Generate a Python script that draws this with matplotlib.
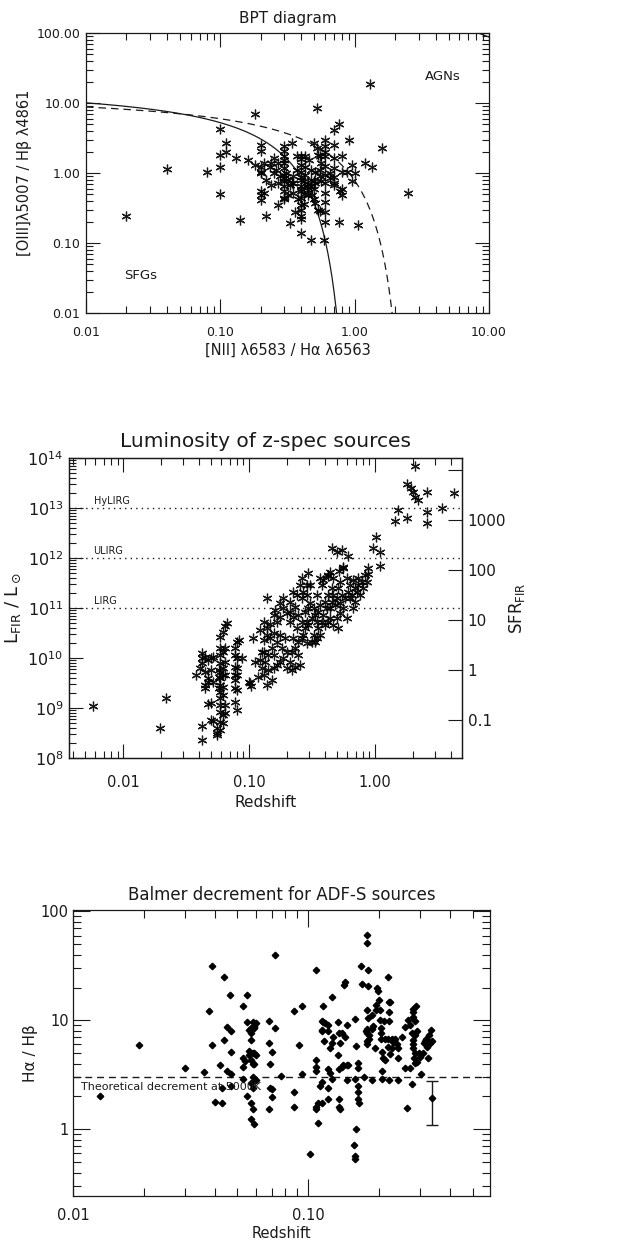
import numpy as np
import matplotlib
matplotlib.use('Agg')
import matplotlib.pyplot as plt
from matplotlib.ticker import LogLocator, FixedLocator, FuncFormatter, NullFormatter, NullLocator

plt.rcParams['font.family'] = ['DejaVu Sans']
plt.rcParams['mathtext.fontset'] = 'dejavusans'

# ---------------- Panel 1 data: BPT diagram ----------------
bpt_nii = [
    0.020, 0.040, 0.080, 0.10, 0.10, 0.10, 0.10, 0.11, 0.11, 0.13,
    0.14, 0.16, 0.18, 0.18, 0.22, 0.27, 0.33, 0.34, 0.52, 1.30,
    0.76, 0.70, 0.90, 1.60, 2.50, 1.06, 0.77, 0.60, 0.47, 0.59,
    0.40, 1.35, 1.20, 1.00, 0.95, 0.95, 0.88, 0.80, 0.80, 0.80,
    0.80, 0.78, 0.70, 0.70, 0.70, 0.70, 0.70, 0.70, 0.60, 0.60,
    0.60, 0.60, 0.60, 0.60, 0.60, 0.60, 0.56, 0.55, 0.52, 0.50,
    0.55, 0.56, 0.55, 0.51, 0.50, 0.47, 0.48, 0.50, 0.44, 0.42,
    0.40, 0.40, 0.40, 0.40, 0.40, 0.40, 0.40, 0.40, 0.40, 0.40,
    0.40, 0.40, 0.38, 0.35, 0.35, 0.33, 0.36, 0.30, 0.30, 0.30,
    0.30, 0.30, 0.30, 0.30, 0.30, 0.30, 0.30, 0.30, 0.30, 0.27,
    0.27, 0.26, 0.25, 0.25, 0.24, 0.235, 0.22, 0.21, 0.20, 0.20,
    0.20, 0.20, 0.20, 0.20, 0.20, 0.20, 0.21, 0.31, 0.32, 0.32,
    0.34, 0.43, 0.43, 0.47, 0.47, 0.46, 0.43, 0.37, 0.37, 0.51,
    0.51, 0.53, 0.53, 0.40, 0.40, 0.45, 0.45, 0.42, 0.50, 0.55,
    0.60, 0.65, 0.65, 0.45, 0.35, 0.28, 0.30, 0.24, 0.60, 0.42,
]
bpt_oiii = [
    0.24, 1.13, 1.03, 4.3, 1.8, 1.2, 0.50, 2.7, 2.0, 1.65,
    0.21, 1.55, 7.0, 1.3, 0.24, 0.35, 0.19, 2.7, 8.5, 18.5,
    5.0, 4.1, 3.0, 2.3, 0.52, 0.18, 0.20, 0.20, 0.11, 0.11,
    0.14, 1.2, 1.4, 1.0, 0.78, 1.3, 1.05, 1.75, 1.05, 0.60,
    0.49, 0.55, 2.5, 1.65, 1.18, 0.89, 0.72, 0.68, 3.0, 2.4,
    2.0, 1.73, 1.25, 0.51, 0.39, 0.72, 1.40, 1.75, 2.27, 2.65,
    1.1, 0.76, 0.29, 0.37, 0.76, 0.80, 0.49, 0.42, 0.65, 0.76,
    1.73, 1.6, 1.3, 1.05, 0.89, 0.65, 0.55, 0.44, 0.35, 0.30,
    0.245, 0.22, 0.42, 0.52, 0.73, 0.68, 0.28, 2.4, 2.05, 1.75,
    1.55, 1.40, 1.19, 0.95, 0.76, 0.65, 0.55, 0.44, 0.42, 1.40,
    0.72, 1.1, 1.0, 1.65, 0.68, 1.2, 0.80, 1.40, 1.05, 2.5,
    2.04, 1.23, 1.0, 0.55, 0.49, 0.41, 0.52, 1.0, 0.80, 0.49,
    0.73, 1.2, 0.95, 1.1, 0.65, 1.55, 1.75, 1.75, 1.1, 0.72,
    1.05, 1.8, 0.30, 0.80, 0.60, 0.58, 0.48, 0.50, 0.60, 0.90,
    0.95, 0.85, 1.0, 0.70, 0.90, 0.90, 0.85, 1.4, 0.28, 0.36,
]
bpt_xticks = [0.01, 0.1, 1.0, 10.0]
bpt_yticks = [0.01, 0.1, 1.0, 10.0, 100.0]

# ---------------- Panel 2 data: luminosity vs redshift ----------------
lum_z = [
    0.0057, 0.0195, 0.0217, 0.042, 0.042,
    0.038, 0.0406, 0.042, 0.042, 0.042,
    0.0446, 0.0446, 0.0446, 0.0446,
    0.0473, 0.0473, 0.0473, 0.0473,
    0.0494, 0.0494, 0.0494, 0.0494,
    0.052, 0.052, 0.052,
    0.055, 0.055, 0.055,
    0.057, 0.057, 0.057,
    0.0586, 0.0586, 0.0586, 0.0586, 0.0586, 0.0586, 0.0586, 0.0586, 0.0586, 0.0586, 0.0586, 0.0586, 0.0586,
    0.0615, 0.0615, 0.0615, 0.0615, 0.0615, 0.0615, 0.0615, 0.0615,
    0.0643, 0.0643, 0.0643, 0.0643, 0.0643, 0.0643,
    0.067,
    0.077, 0.077, 0.077, 0.077, 0.077, 0.077, 0.077,
    0.0805, 0.0805, 0.0805, 0.0805, 0.0805, 0.0805,
    0.087, 0.083,
    # main band
    0.138, 0.187, 0.160, 0.166, 0.147, 0.138, 0.130, 0.130, 0.134, 0.126,
    0.130, 0.138, 0.151, 0.118, 0.108, 0.111, 0.102, 0.103, 0.099, 0.147,
    0.156, 0.151, 0.156, 0.166, 0.176, 0.181, 0.187, 0.199, 0.193, 0.211,
    0.224, 0.211, 0.231, 0.211, 0.224, 0.238, 0.245, 0.254, 0.231, 0.218,
    0.261, 0.254, 0.295, 0.304, 0.286, 0.304, 0.314, 0.295, 0.324, 0.334,
    0.344, 0.355, 0.366, 0.344, 0.377, 0.388, 0.366, 0.426, 0.439, 0.467,
    0.453, 0.426, 0.40, 0.413, 0.439, 0.467, 0.481, 0.496, 0.511, 0.527,
    0.56, 0.596, 0.614, 0.632, 0.578, 0.56, 0.596, 0.673, 0.693, 0.673,
    0.737, 0.783, 0.807, 0.76, 0.7145, 0.496, 0.527, 0.511,
    0.13, 0.138, 0.122, 0.126, 0.142, 0.122, 0.142, 0.156, 0.166, 0.176,
    0.199, 0.211, 0.218, 0.231, 0.245, 0.261, 0.269, 0.277, 0.286, 0.261,
    0.245, 0.277, 0.295, 0.324, 0.334, 0.355, 0.366, 0.344, 0.314, 0.286,
    0.377, 0.388, 0.40, 0.426, 0.439, 0.453, 0.467, 0.543, 0.527, 0.632,
    0.652, 0.693, 0.737,
    0.156, 0.176, 0.199, 0.187, 0.176, 0.238, 0.224, 0.261, 0.269, 0.286,
    # near ULIRG
    0.453, 0.496, 0.55, 0.614, 1.02, 0.97, 1.10, 1.10, 0.87, 0.83,
    0.88, 0.86, 0.56, 0.52, 0.426,
    # high redshift
    1.43, 1.51, 1.79, 1.80, 1.93, 2.0, 2.08, 2.2, 2.08, 2.58,
    2.58, 2.6, 3.39, 4.2,
]
lum_logL = [
    9.05, 8.6, 9.2, 8.37, 8.65,
    9.67, 9.8, 10.1, 10.0, 9.9,
    10.03, 9.73, 9.47, 9.4,
    9.97, 9.6, 9.53, 9.08,
    10.0, 9.77, 9.1, 8.77,
    10.03, 9.53, 8.75,
    8.6, 8.5, 8.47,
    9.77, 9.63, 9.4,
    10.43, 10.2, 10.07, 9.9, 9.73, 9.6, 9.47, 9.33, 9.2, 9.07, 8.93, 8.73, 8.57,
    10.53, 10.13, 9.8, 9.67, 9.43, 9.27, 8.87, 8.7,
    10.65, 10.2, 9.93, 9.67, 9.07, 8.9,
    10.7,
    10.2, 10.07, 9.83, 9.67, 9.57, 9.4, 9.13,
    10.33, 10.0, 9.8, 9.67, 9.37, 8.97,
    10.0, 10.37,
    11.2, 11.21, 10.97, 10.73, 10.68, 10.6, 10.37, 10.13, 9.93, 9.8,
    9.67, 9.47, 9.57, 9.63, 10.4, 9.93, 9.5, 9.45, 9.53, 10.4,
    10.5, 10.2, 10.07, 10.33, 10.47, 10.2, 10.0, 10.13, 10.4, 10.73,
    10.83, 10.93, 11.03, 11.13, 10.4, 10.6, 10.07, 9.87, 9.83, 9.77,
    11.2, 11.47, 11.7, 11.47, 11.27, 11.1, 10.8, 10.67, 10.47, 10.33,
    10.73, 10.93, 11.07, 11.27, 11.47, 11.57, 11.6, 11.67, 11.73, 11.6,
    11.4, 11.27, 11.13, 11.0, 10.8, 10.67, 11.07, 11.2, 11.4, 11.53,
    11.8, 11.6, 11.33, 11.47, 11.2, 11.0, 10.8, 11.0, 11.13, 11.57,
    11.6, 11.53, 11.4, 11.27, 11.33, 10.8, 10.9, 10.6,
    10.73, 10.47, 10.57, 10.13, 10.07, 9.97, 9.77, 9.8, 9.87, 9.93,
    9.8, 9.93, 10.13, 10.2, 10.33, 10.4, 10.47, 10.6, 10.73, 10.73,
    10.87, 10.93, 11.0, 11.0, 10.87, 10.6, 10.47, 10.4, 10.33, 10.3,
    10.73, 10.87, 10.67, 10.73, 11.0, 11.13, 11.27, 11.27, 11.1, 11.2,
    11.27, 11.4, 11.47,
    10.87, 10.83, 10.9, 11.0, 11.1, 11.27, 11.33, 11.6, 11.33, 11.47,
    12.21, 12.12, 12.17, 12.05, 12.43, 12.21, 12.13, 11.85, 11.8, 11.67,
    11.68, 11.53, 11.83, 11.75, 11.65,
    12.75, 12.97, 12.81, 13.48, 13.4, 13.33, 13.23, 13.17, 13.85, 13.33,
    12.93, 12.7, 13.01, 13.3,
]
lum_classes = ['HyLIRG', 'ULIRG', 'LIRG']
lum_class_L = [1e13, 1e12, 1e11]
sfr_per_L = 1.72e-10
sfr_ticks = [0.1, 1, 10, 100, 1000, 10000]
sfr_ticklabels = ['0.1', '1', '10', '100', '1000', '']

# ---------------- Panel 3 data: Balmer decrement ----------------
bal_z = [
    0.013, 0.019, 0.030, 0.036, 0.038, 0.039, 0.039, 0.040, 0.042, 0.043,
    0.043, 0.044, 0.044, 0.045, 0.045, 0.0465, 0.047, 0.047, 0.047, 0.047,
    0.053, 0.055, 0.053, 0.054, 0.053, 0.053, 0.055, 0.057, 0.058, 0.057,
    0.059, 0.055, 0.056, 0.057, 0.057, 0.056, 0.056, 0.057, 0.057, 0.058,
    0.059, 0.059, 0.059, 0.060, 0.058, 0.057, 0.058, 0.058, 0.060, 0.058,
    0.059, 0.059, 0.060, 0.068, 0.068, 0.069, 0.069, 0.0705, 0.068, 0.070,
    0.0705, 0.072, 0.072, 0.077, 0.087, 0.087, 0.087, 0.091, 0.094, 0.094,
    0.102, 0.108, 0.108, 0.108, 0.108, 0.108, 0.108, 0.110, 0.112, 0.110,
    0.114, 0.114, 0.115, 0.116, 0.118, 0.114, 0.115, 0.117, 0.116, 0.122,
    0.122, 0.124, 0.126, 0.122, 0.124, 0.122, 0.122, 0.126, 0.128, 0.126,
    0.134, 0.134, 0.136, 0.135, 0.135, 0.135, 0.135, 0.137, 0.139, 0.139,
    0.141, 0.143, 0.142, 0.143, 0.146, 0.146, 0.148, 0.146, 0.158, 0.160,
    0.158, 0.163, 0.163, 0.163, 0.163, 0.163, 0.165, 0.160, 0.157, 0.158,
    0.158, 0.167, 0.169, 0.172, 0.176, 0.177, 0.177, 0.178, 0.177, 0.177,
    0.180, 0.178, 0.178, 0.180, 0.180, 0.181, 0.182, 0.186, 0.186, 0.187,
    0.188, 0.192, 0.194, 0.195, 0.197, 0.198, 0.200, 0.202, 0.202, 0.204,
    0.204, 0.204, 0.205, 0.205, 0.205, 0.2085, 0.212, 0.210, 0.212, 0.219,
    0.219, 0.221, 0.223, 0.221, 0.221, 0.219, 0.221, 0.223, 0.227, 0.227,
    0.234, 0.230, 0.238, 0.240, 0.242, 0.242, 0.250, 0.258, 0.258, 0.262,
    0.267, 0.270, 0.272, 0.275, 0.275, 0.278, 0.280, 0.280, 0.280, 0.280,
    0.280, 0.284, 0.282, 0.284, 0.287, 0.290, 0.284, 0.284, 0.290, 0.296,
    0.298, 0.303, 0.308, 0.310, 0.313, 0.316, 0.319, 0.320, 0.324, 0.324,
    0.326, 0.330, 0.332, 0.335, 0.326,
]
bal_ratio = [
    2.0, 5.9, 3.65, 3.35, 12.3, 31.7, 5.9, 1.78, 3.85, 2.38,
    1.73, 25.0, 6.6, 8.6, 3.4, 17.2, 7.9, 5.1, 3.25, 2.5,
    13.4, 17.2, 4.5, 4.2, 3.75, 2.88, 2.0, 1.73, 1.54, 1.24,
    1.12, 9.6, 8.2, 8.5, 7.6, 5.2, 4.8, 6.6, 4.3, 9.6,
    8.6, 8.5, 8.9, 9.4, 3.95, 2.65, 2.4, 3.05, 2.85, 5.0,
    5.0, 4.0, 4.85, 9.8, 6.2, 4.0, 2.4, 2.35, 1.52, 1.98,
    5.1, 39.4, 8.5, 3.1, 12.3, 2.2, 1.6, 5.9, 13.4, 3.2,
    0.59, 28.7, 4.3, 3.75, 3.4, 1.6, 1.54, 1.73, 2.5, 1.15,
    1.73, 2.7, 9.8, 9.6, 9.4, 8.2, 7.9, 6.5, 13.4, 9.1,
    7.9, 5.55, 6.2, 3.6, 3.3, 2.38, 1.9, 2.9, 7.1, 16.3,
    9.6, 4.8, 6.2, 7.7, 3.6, 1.9, 1.6, 1.55, 7.6, 3.75,
    3.9, 7.1, 21.0, 22.3, 9.1, 3.9, 3.9, 2.85, 10.2, 5.8,
    2.88, 4.1, 3.65, 2.5, 2.2, 1.9, 1.73, 1.0, 0.72, 0.57,
    0.53, 31.7, 21.6, 3.0, 7.9, 12.5, 7.6, 8.3, 6.4, 6.0,
    10.6, 61.0, 51.0, 28.7, 20.7, 6.8, 7.3, 11.2, 8.3, 2.82,
    8.8, 5.55, 13.9, 12.5, 19.8, 18.4, 15.4, 12.5, 10.1, 8.5,
    7.6, 6.8, 5.17, 3.4, 2.88, 4.5, 4.35, 9.8, 6.7, 5.7,
    25.0, 14.7, 14.6, 12.0, 9.8, 6.8, 2.82, 4.95, 5.55, 6.7,
    6.7, 6.3, 6.1, 5.55, 2.85, 4.5, 7.1, 8.6, 3.65, 1.56,
    10.1, 9.1, 3.65, 7.7, 2.6, 12.0, 12.8, 10.8, 6.6, 6.0,
    5.55, 7.3, 4.5, 9.8, 13.6, 8.0, 5.0, 4.1, 4.15, 5.0,
    4.6, 3.2, 5.0, 6.2, 6.4, 6.7, 5.75, 6.2, 6.4, 4.5,
    7.3, 6.2, 8.2, 6.4, 6.0,
]
bal_theory = 3.0
bal_err_z = [0.337]
bal_err_val = [1.95]
bal_err_lo = [0.85]
bal_err_hi = [0.85]

# ---------------- figure ----------------
W, H = 628.0, 1241.0
fig = plt.figure(figsize=(W / 100, H / 100), dpi=100)

def box(l, t, r, b):
    return [l / W, 1 - b / H, (r - l) / W, (b - t) / H]

INK = '#1a1a1a'
AST = (6, 2, 0)

def style(ax, right=True, maj=9, mnr=4.5, size=10, pad=4):
    ax.tick_params(which='both', direction='in', top=True, right=right,
                   colors=INK, width=0.8, labelsize=size, pad=pad)
    ax.tick_params(which='major', length=maj)
    ax.tick_params(which='minor', length=mnr)
    for s in ax.spines.values():
        s.set_linewidth(0.9)
        s.set_color(INK)

# ----- Panel 1 -----
ax1 = fig.add_axes(box(86, 33, 489, 313))
ax1.set_xscale('log'); ax1.set_yscale('log')
ax1.set_xlim(0.01, 10); ax1.set_ylim(0.01, 100)
lx = np.linspace(-2.0, 0.04, 400)
ax1.plot(10 ** lx, 10 ** (0.61 / (lx - 0.05) + 1.3), color=INK, lw=0.9)
lx_b = np.linspace(0.06, 1.0, 200)
ax1.plot(10 ** lx_b, 10 ** (0.61 / (lx_b - 0.05) + 1.3), color=INK, lw=0.9)
lk = np.linspace(-2.0, 0.46, 400)
ax1.plot(10 ** lk, 10 ** (0.61 / (lk - 0.47) + 1.19), color=INK, lw=0.9,
         linestyle=(0, (6, 4)))
ax1.plot(bpt_nii, bpt_oiii, linestyle='none', marker=AST, ms=7, mew=0.9,
         color='k', alpha=0.9)
ax1.text(4.5, 24, 'AGNs', ha='center', va='center', fontsize=9.5, color=INK)
ax1.text(0.0257, 0.034, 'SFGs', ha='center', va='center', fontsize=9.5, color=INK)
ax1.xaxis.set_major_locator(FixedLocator(bpt_xticks))
ax1.yaxis.set_major_locator(FixedLocator(bpt_yticks))
ax1.xaxis.set_minor_locator(LogLocator(base=10, subs=np.arange(2, 10)))
ax1.yaxis.set_minor_locator(LogLocator(base=10, subs=np.arange(2, 10)))
ax1.xaxis.set_major_formatter(FuncFormatter(lambda v, p: '%.2f' % v))
ax1.yaxis.set_major_formatter(FuncFormatter(lambda v, p: '%.2f' % v))
ax1.xaxis.set_minor_formatter(NullFormatter()); ax1.yaxis.set_minor_formatter(NullFormatter())
style(ax1, maj=10, mnr=5, size=9, pad=4)
ax1.tick_params(axis='x', pad=9)
ax1.set_title('BPT diagram', fontsize=11, color=INK, pad=7)
ax1.set_xlabel('[NII] λ6583 / Hα λ6563', fontsize=10.5, color=INK, labelpad=3)
ax1.set_ylabel('[OIII]λ5007 / Hβ λ4861', fontsize=10.5, color=INK, labelpad=3)

# ----- Panel 2 -----
ax2 = fig.add_axes(box(69, 458, 462, 758))
ax2.set_xscale('log'); ax2.set_yscale('log')
xl2 = (0.0037, 4.9); yl2 = (1e8, 1e14)
ax2.set_xlim(*xl2); ax2.set_ylim(*yl2)
for Lc, name in zip(lum_class_L, lum_classes):
    ax2.axhline(Lc, color=INK, lw=1.0, linestyle=(0, (1, 3)))
    ax2.text(0.0058, Lc * 1.12, name, fontsize=7, color=INK, ha='left', va='bottom')
ax2.plot(lum_z, 10 ** np.array(lum_logL), linestyle='none', marker=AST, ms=7,
         mew=0.9, color='k', alpha=0.9)
ax2.xaxis.set_major_locator(FixedLocator([0.01, 0.1, 1.0]))
ax2.xaxis.set_minor_locator(LogLocator(base=10, subs=np.arange(2, 10)))
ax2.xaxis.set_major_formatter(FuncFormatter(lambda v, p: '%.2f' % v))
ax2.xaxis.set_minor_formatter(NullFormatter())
ax2.yaxis.set_major_locator(LogLocator(base=10))
ax2.yaxis.set_minor_locator(LogLocator(base=10, subs=np.arange(2, 10)))
ax2.yaxis.set_major_formatter(FuncFormatter(lambda v, p: r'$10^{%d}$' % round(np.log10(v))))
ax2.yaxis.set_minor_formatter(NullFormatter())
style(ax2, right=False, maj=10, mnr=5, pad=4)
ax2.tick_params(axis='y', labelsize=11.5)
ax2.tick_params(axis='x', labelsize=10.5, pad=12)
ax2.set_title('Luminosity of z-spec sources', fontsize=14.5, color=INK, pad=8)
ax2.set_xlabel('Redshift', fontsize=11, color=INK, labelpad=4)
ax2.set_ylabel(r'L$_{\rm FIR}$ / L$_\odot$', fontsize=13, color=INK, labelpad=3)
ax2r = ax2.twinx()
ax2r.set_yscale('log')
ax2r.set_ylim(yl2[0] * sfr_per_L, yl2[1] * sfr_per_L)
ax2r.yaxis.set_major_locator(FixedLocator(sfr_ticks))
ax2r.yaxis.set_minor_locator(NullLocator())
ax2r.set_yticklabels(sfr_ticklabels)
ax2r.tick_params(axis='y', direction='in', length=10, width=0.8, labelsize=11,
                 colors=INK, pad=4)
for s in ax2r.spines.values():
    s.set_linewidth(0.9); s.set_color(INK)
ax2r.set_ylabel(r'SFR$_{\rm FIR}$', fontsize=12, color=INK, rotation=90, labelpad=1)

# ----- Panel 3 -----
ax3 = fig.add_axes(box(73, 910, 490, 1196))
ax3.set_xscale('log'); ax3.set_yscale('log')
ax3.set_xlim(0.01, 0.593); ax3.set_ylim(0.244, 103)
ax3.axhline(bal_theory, color=INK, lw=1.0, linestyle=(0, (5, 3.5)))
ax3.text(0.0108, 2.43, 'Theoretical decrement at 5000K', fontsize=8, color=INK,
         ha='left', va='center')
ax3.plot(bal_z, bal_ratio, linestyle='none', marker='D', ms=3.3, color='k')
ax3.errorbar(bal_err_z, bal_err_val, yerr=[bal_err_lo, bal_err_hi], fmt='D',
             ms=3.3, color='k', ecolor=INK, elinewidth=1.0, capsize=4, capthick=1.0)
ax3.xaxis.set_major_locator(FixedLocator([0.01, 0.1]))
ax3.xaxis.set_minor_locator(LogLocator(base=10, subs=np.arange(2, 10)))
ax3.xaxis.set_major_formatter(FuncFormatter(lambda v, p: '%.2f' % v))
ax3.xaxis.set_minor_formatter(NullFormatter())
ax3.yaxis.set_major_locator(FixedLocator([1, 10, 100]))
ax3.yaxis.set_minor_locator(LogLocator(base=10, subs=np.arange(2, 10)))
ax3.yaxis.set_major_formatter(FuncFormatter(lambda v, p: '%d' % v))
ax3.yaxis.set_minor_formatter(NullFormatter())
style(ax3, maj=12, mnr=6, size=10.5, pad=3)
ax3.tick_params(axis='x', pad=9)
ax3.set_title('Balmer decrement for ADF-S sources', fontsize=12, color=INK, pad=7)
ax3.set_xlabel('Redshift', fontsize=10.5, color=INK, labelpad=2)
ax3.set_ylabel('Hα / Hβ', fontsize=11, color=INK, labelpad=2)

fig.savefig('out.png', dpi=100)
